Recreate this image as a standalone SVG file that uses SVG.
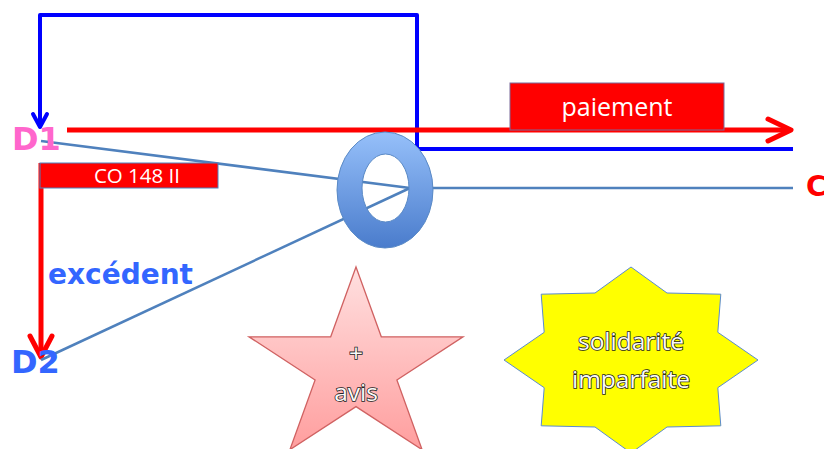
<svg xmlns="http://www.w3.org/2000/svg" width="824" height="449" viewBox="0 0 824 449">
<style>
.lbl{font-family:"DejaVu Sans",Verdana,sans-serif;font-weight:bold}
.box{fill:#ff0000}
.wt{font-family:"Open Sans","Noto Sans",sans-serif;fill:#ffffff;text-anchor:middle}
.ol{font-family:"Open Sans","Noto Sans",sans-serif;fill:#fafafa;stroke:#222222;stroke-width:1.6;paint-order:stroke;text-anchor:middle;font-size:24.5px}
.thin{stroke:#4f81bd;stroke-width:2.5;fill:none}
</style>
<defs>
<linearGradient id="ringG" x1="0" y1="0" x2="0" y2="1">
<stop offset="0" stop-color="#96c0fa"/>
<stop offset="1" stop-color="#4a7ccc"/>
</linearGradient>
<linearGradient id="starG" x1="0" y1="0" x2="0" y2="1">
<stop offset="0" stop-color="#ffe0e0"/>
<stop offset="1" stop-color="#ff9e9e"/>
</linearGradient>
</defs>
<g id="connectors">
<polyline points="793,149 417,149 417,15 40,15 40,127" fill="none" stroke="#0000ff" stroke-width="4" stroke-linejoin="round"/>
<polyline points="33,114 40,127 47,114" fill="none" stroke="#0000ff" stroke-width="4" stroke-linecap="round" stroke-linejoin="round"/>
<line x1="67" y1="130" x2="790" y2="130" stroke="#ff0000" stroke-width="5"/>
<polyline points="768,119 791,130 768,141" fill="none" stroke="#ff0000" stroke-width="5" stroke-linecap="round" stroke-linejoin="round"/>
<line x1="41" y1="163" x2="41" y2="357" stroke="#ff0000" stroke-width="5"/>
<polyline points="30,336 41,357 52,336" fill="none" stroke="#ff0000" stroke-width="5" stroke-linecap="round" stroke-linejoin="round"/>
<line class="thin" x1="41" y1="141" x2="410" y2="188"/>
<line class="thin" x1="41" y1="360" x2="410" y2="188"/>
<line class="thin" x1="430" y1="188" x2="793" y2="188"/>
</g>
<g id="ring">
<path d="M337,190 a48,58 0 1,0 96,0 a48,58 0 1,0 -96,0 Z M362,188 a23.5,34 0 1,1 47,0 a23.5,34 0 1,1 -47,0 Z" fill="url(#ringG)" fill-rule="evenodd" stroke="#5a8ac6" stroke-width="1"/>
</g>
<g id="paiement">
<rect x="510" y="83" width="214" height="47" class="box" stroke="#7a6a9a" stroke-width="1"/>
<text x="617" y="116" class="wt" font-size="25">paiement</text>
</g>
<g id="co148">
<rect x="40" y="163" width="178" height="25" class="box" stroke="#4f81bd" stroke-width="1"/>
<text x="137" y="183" class="wt" font-size="20.5">CO 148 II</text>
</g>
<g id="d1"><text x="12" y="150" class="lbl" font-size="32" fill="#ff66cc">D1</text></g>
<g id="d2"><text x="11" y="373" class="lbl" font-size="32" fill="#3366ff">D2</text></g>
<g id="excedent"><text x="48" y="284" class="lbl" font-size="28" fill="#3366ff">excédent</text></g>
<g id="c"><text x="806" y="196" class="lbl" font-size="28" fill="#ff0000">C</text></g>
<g id="star">
<polygon points="356,267 381.3,336.8 463,336.8 396.9,379.9 422.1,449.7 356,406.6 289.9,449.7 315.1,379.9 249,336.8 330.7,336.8" fill="url(#starG)" stroke="#d06262" stroke-width="1.3"/>
<text x="356" y="362" class="ol">+</text>
<text x="356" y="401" class="ol">avis</text>
</g>
<g id="solidarite">
<polygon points="631,267 667,293 720.8,294.2 717.8,332.3 758,360 717.8,387.7 720.8,425.8 667,427 631,453 595,427 541.2,425.8 544.2,387.7 504,360 544.2,332.3 541.2,294.2 595,293" fill="#ffff00" stroke="#5b8bd0" stroke-width="1"/>
<text x="631" y="350" class="ol">solidarité</text>
<text x="631" y="388" class="ol">imparfaite</text>
</g>
</svg>
